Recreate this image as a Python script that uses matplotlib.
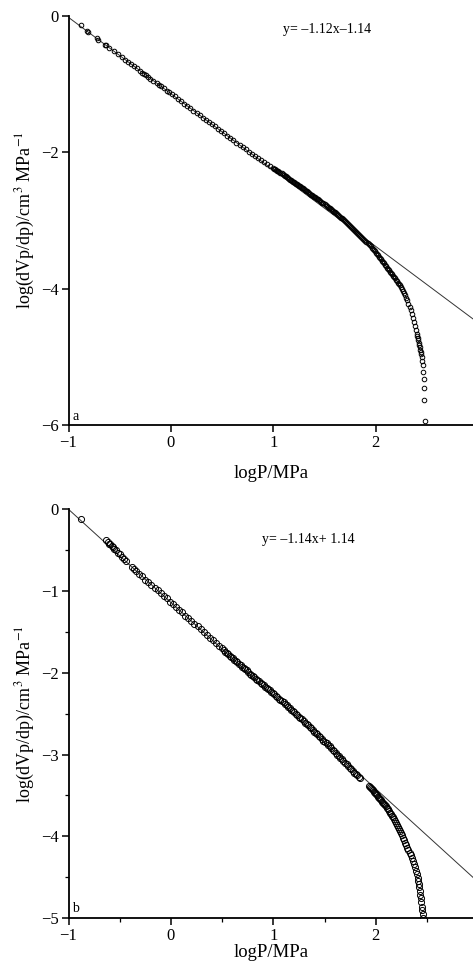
import numpy as np
import matplotlib
matplotlib.use("Agg")
import matplotlib.pyplot as plt
from matplotlib.ticker import MultipleLocator

plt.rcParams['font.family'] = ['Liberation Serif', 'DejaVu Serif']
plt.rcParams['mathtext.fontset'] = 'stix'

# sample a: logP vs log(dVp/dp)
logp_a = [-0.88, -0.82, -0.81, -0.72, -0.71, -0.64, -0.63, -0.60, -0.56, -0.52,
          -0.48, -0.45, -0.42, -0.39, -0.36, -0.33, -0.30, -0.28, -0.26, -0.24,
          -0.22, -0.20, -0.17, -0.14, -0.12, -0.10, -0.07, -0.04, -0.02, 0.01,
          0.04, 0.07, 0.10, 0.13, 0.16, 0.19, 0.22, 0.25, 0.28, 0.31,
          0.34, 0.37, 0.40, 0.43, 0.46, 0.49, 0.52, 0.55, 0.58, 0.61,
          0.64, 0.67, 0.70, 0.73, 0.76, 0.79, 0.82, 0.85, 0.88, 0.91,
          0.94, 0.97, 1.00, 1.02, 1.04, 1.06, 1.08, 1.10, 1.12, 1.14,
          1.16, 1.18, 1.20, 1.22, 1.24, 1.26, 1.28, 1.30, 1.32, 1.34,
          1.36, 1.38, 1.40, 1.42, 1.44, 1.46, 1.48, 1.50, 1.52, 1.54,
          1.56, 1.58, 1.60, 1.62, 1.64, 1.66, 1.68, 1.70, 1.72, 1.74,
          1.76, 1.78, 1.80, 1.82, 1.84, 1.86, 1.88, 1.90, 1.92, 1.94,
          1.96, 1.98, 2.00, 2.02, 2.04, 2.06, 2.08, 2.10, 2.12, 2.14,
          2.16, 2.18, 2.20, 2.22, 2.24, 2.26, 2.28, 2.30, 2.32, 2.34,
          2.36, 2.38, 2.40, 2.41, 2.42, 2.43, 2.44, 2.45, 2.46, 2.465,
          2.47, 2.47, 2.475, 2.48,
          1.01, 1.03, 1.05, 1.07, 1.09, 1.11, 1.13, 1.15, 1.17, 1.19,
          1.21, 1.23, 1.25, 1.27, 1.29, 1.31, 1.33, 1.35, 1.37, 1.39,
          1.41, 1.43, 1.45, 1.47, 1.49, 1.51, 1.53, 1.55, 1.57, 1.59,
          1.61, 1.63, 1.65, 1.67, 1.69, 1.71, 1.73, 1.75, 1.77, 1.79,
          1.81, 1.83, 1.85, 1.87, 1.89, 1.91, 1.93, 1.95, 1.97, 1.99,
          2.01, 2.03, 2.05, 2.07, 2.09, 2.11, 2.13, 2.15, 2.17, 2.19,
          2.21, 2.23, 2.25, 2.27, 2.29, 2.31, 2.33, 2.35, 2.37, 2.39,
          2.405, 2.415, 2.425, 2.435, 2.445, 2.455]
logdv_a = [-0.13, -0.22, -0.23, -0.33, -0.35, -0.42, -0.43, -0.47, -0.51, -0.56,
           -0.60, -0.64, -0.67, -0.70, -0.74, -0.77, -0.80, -0.83, -0.85, -0.87,
           -0.89, -0.92, -0.95, -0.98, -1.01, -1.03, -1.06, -1.10, -1.12, -1.15,
           -1.18, -1.22, -1.25, -1.29, -1.32, -1.35, -1.39, -1.42, -1.45, -1.49,
           -1.52, -1.55, -1.59, -1.62, -1.66, -1.69, -1.72, -1.76, -1.79, -1.82,
           -1.86, -1.89, -1.92, -1.95, -1.99, -2.02, -2.05, -2.08, -2.11, -2.14,
           -2.17, -2.20, -2.23, -2.25, -2.27, -2.29, -2.31, -2.33, -2.35, -2.37,
           -2.40, -2.42, -2.44, -2.46, -2.48, -2.50, -2.52, -2.54, -2.56, -2.58,
           -2.61, -2.63, -2.65, -2.67, -2.69, -2.72, -2.74, -2.76, -2.78, -2.81,
           -2.83, -2.86, -2.88, -2.91, -2.93, -2.96, -2.98, -3.01, -3.04, -3.07,
           -3.09, -3.12, -3.15, -3.18, -3.21, -3.24, -3.27, -3.30, -3.33, -3.36,
           -3.40, -3.43, -3.47, -3.51, -3.55, -3.59, -3.63, -3.67, -3.71, -3.75,
           -3.79, -3.83, -3.87, -3.91, -3.95, -4.00, -4.06, -4.13, -4.22, -4.32,
           -4.43, -4.55, -4.66, -4.72, -4.79, -4.86, -4.93, -5.00, -5.12, -5.22,
           -5.33, -5.46, -5.63, -5.94,
           -2.24, -2.26, -2.28, -2.30, -2.32, -2.34, -2.36, -2.385, -2.41, -2.43,
           -2.45, -2.47, -2.49, -2.51, -2.53, -2.55, -2.57, -2.595, -2.62, -2.64,
           -2.66, -2.68, -2.705, -2.73, -2.75, -2.77, -2.795, -2.82, -2.845, -2.87,
           -2.895, -2.92, -2.945, -2.97, -2.995, -3.025, -3.055, -3.08, -3.105, -3.135,
           -3.165, -3.195, -3.225, -3.255, -3.285, -3.315, -3.345, -3.38, -3.415, -3.45,
           -3.49, -3.53, -3.57, -3.61, -3.65, -3.69, -3.73, -3.77, -3.81, -3.85,
           -3.89, -3.93, -3.975, -4.03, -4.095, -4.17, -4.27, -4.375, -4.49, -4.60,
           -4.69, -4.755, -4.825, -4.895, -4.965, -5.06]

# sample b
logp_b = [-0.88, -0.63, -0.61, -0.60, -0.59, -0.58, -0.57, -0.56, -0.54, -0.52,
          -0.50, -0.48, -0.46, -0.44, -0.38, -0.36, -0.34, -0.31, -0.28, -0.25,
          -0.22, -0.19, -0.16, -0.13, -0.10, -0.07, -0.04, -0.01, 0.02, 0.05,
          0.08, 0.11, 0.14, 0.17, 0.20, 0.23, 0.26, 0.29, 0.32, 0.35,
          0.38, 0.41, 0.44, 0.47, 0.50, 0.53, 0.56, 0.59, 0.62, 0.65,
          0.68, 0.71, 0.74, 0.77, 0.80, 0.83, 0.86, 0.89, 0.92, 0.95,
          0.98, 1.01, 1.04, 1.07, 1.10, 1.13, 1.16, 1.19, 1.22, 1.25,
          1.28, 1.31, 1.34, 1.37, 1.40, 1.43, 1.46, 1.49, 1.52, 1.55,
          1.58, 1.61, 1.64, 1.67, 1.70, 1.73, 1.76, 1.79, 1.82, 1.85,
          1.93, 1.95, 1.97, 1.99, 2.01, 2.03, 2.05, 2.07, 2.09, 2.11,
          2.13, 2.15, 2.17, 2.19, 2.21, 2.23, 2.25, 2.27, 2.29, 2.31,
          2.33, 2.35, 2.37, 2.39, 2.41, 2.42, 2.43, 2.44, 2.45, 2.46,
          2.46,
          0.515, 0.545, 0.575, 0.605, 0.635, 0.665, 0.695, 0.725, 0.755, 0.785,
          0.815, 0.845, 0.875, 0.905, 0.935, 0.965, 0.995, 1.025, 1.055, 1.085,
          1.115, 1.145, 1.175, 1.205, 1.235, 1.265, 1.295, 1.325, 1.355, 1.385,
          1.415, 1.445, 1.475, 1.505, 1.535, 1.565, 1.595, 1.625, 1.655, 1.685,
          1.715, 1.745, 1.775, 1.805, 1.835,
          1.94, 1.96, 1.98, 2.00, 2.02, 2.04, 2.06, 2.08, 2.10, 2.12,
          2.14, 2.16, 2.18, 2.20, 2.22, 2.24, 2.26, 2.28, 2.30, 2.32,
          2.34, 2.36, 2.38, 2.40, 2.415, 2.425, 2.435, 2.445, 2.455]
logdv_b = [-0.12, -0.37, -0.40, -0.42, -0.43, -0.45, -0.46, -0.48, -0.50, -0.53,
           -0.55, -0.58, -0.61, -0.63, -0.71, -0.73, -0.75, -0.79, -0.82, -0.86,
           -0.89, -0.92, -0.96, -0.99, -1.03, -1.06, -1.09, -1.13, -1.16, -1.20,
           -1.23, -1.26, -1.30, -1.33, -1.37, -1.40, -1.43, -1.47, -1.50, -1.54,
           -1.57, -1.60, -1.64, -1.67, -1.70, -1.74, -1.77, -1.81, -1.84, -1.87,
           -1.91, -1.94, -1.97, -2.01, -2.04, -2.07, -2.10, -2.14, -2.17, -2.20,
           -2.23, -2.26, -2.30, -2.33, -2.36, -2.40, -2.43, -2.47, -2.50, -2.54,
           -2.57, -2.61, -2.64, -2.68, -2.72, -2.75, -2.79, -2.83, -2.86, -2.90,
           -2.94, -2.98, -3.02, -3.06, -3.10, -3.14, -3.18, -3.22, -3.25, -3.29,
           -3.38, -3.41, -3.44, -3.47, -3.50, -3.53, -3.56, -3.59, -3.62, -3.65,
           -3.69, -3.73, -3.77, -3.81, -3.86, -3.91, -3.96, -4.02, -4.08, -4.14,
           -4.20, -4.27, -4.34, -4.42, -4.51, -4.58, -4.67, -4.76, -4.86, -4.95,
           -5.00,
           -1.72, -1.755, -1.79, -1.825, -1.855, -1.89, -1.925, -1.955, -1.99, -2.025,
           -2.055, -2.085, -2.12, -2.155, -2.185, -2.215, -2.245, -2.28, -2.315, -2.345,
           -2.38, -2.415, -2.45, -2.485, -2.52, -2.555, -2.59, -2.625, -2.66, -2.70,
           -2.735, -2.77, -2.81, -2.845, -2.88, -2.92, -2.96, -3.00, -3.04, -3.08,
           -3.12, -3.16, -3.20, -3.235, -3.27,
           -3.395, -3.425, -3.455, -3.485, -3.515, -3.545, -3.575, -3.605, -3.635, -3.67,
           -3.71, -3.75, -3.79, -3.835, -3.885, -3.935, -3.99, -4.05, -4.11, -4.17,
           -4.235, -4.305, -4.38, -4.465, -4.545, -4.625, -4.715, -4.81, -4.905]

# fitted lines (slope, intercept) and their printed equations
fit_a = (-1.12, -1.14)
fit_b = (-1.14, -1.14)
eq_a = 'y= \u20131.12x\u20131.14'
eq_b = 'y= \u20131.14x+ 1.14'

W, H = 473, 965
fig = plt.figure(figsize=(W / 100, H / 100), dpi=100)

x0 = 68.5 / W
ax1 = fig.add_axes([x0, 1 - 425 / H, 1 - x0, 409 / H])
ax2 = fig.add_axes([x0, 1 - 918 / H, 1 - x0, 408.7 / H])

xmax = 2.95
xs = np.array([-1, xmax])

ax1.plot(xs, fit_a[0] * xs + fit_a[1], color='#333333', lw=0.7, zorder=1)
ax1.plot(logp_a, logdv_a, 'o', ms=3.3, mfc='none', mec='black', mew=0.7, zorder=2)
ax2.plot(xs, fit_b[0] * xs + fit_b[1], color='#333333', lw=0.7, zorder=1)
ax2.plot(logp_b, logdv_b, 'o', ms=4.4, mfc='none', mec='black', mew=0.7, zorder=2)

ax1.set_xlim(-1, xmax)
ax1.set_ylim(-6, 0)
ax1.set_yticks([0, -2, -4, -6])
ax1.set_xticks([-1, 0, 1, 2])

ax2.set_xlim(-1, xmax)
ax2.set_ylim(-5, 0)
ax2.set_yticks([0, -1, -2, -3, -4, -5])
ax2.set_xticks([-1, 0, 1, 2])
ax2.xaxis.set_minor_locator(MultipleLocator(0.5))
ax2.yaxis.set_minor_locator(MultipleLocator(0.5))

ylab = r'log(dVp/dp)/cm$^3$ MPa$^{-1}$'
for ax in (ax1, ax2):
    for s in ('top', 'right'):
        ax.spines[s].set_visible(False)
    for s in ('left', 'bottom'):
        ax.spines[s].set_linewidth(1.3)
    ax.tick_params(which='major', direction='out', length=5, width=1.1,
                   labelsize=12, pad=2)
    ax.tick_params(which='minor', direction='out', length=3, width=0.9)
    ax.set_ylabel(ylab, fontsize=13, labelpad=3)

ax1.set_xlabel('logP/MPa', fontsize=13.5, labelpad=10)
ax2.set_xlabel('logP/MPa', fontsize=13.5, labelpad=0)

ax1.text(283 / W, 1 - 30 / H, eq_a, transform=fig.transFigure, fontsize=10, va='center')
ax2.text(262 / W, 1 - 540 / H, eq_b, transform=fig.transFigure, fontsize=10, va='center')
ax1.text(72 / W, 1 - 416 / H, 'a', transform=fig.transFigure, fontsize=10, va='center')
ax2.text(72 / W, 1 - 909 / H, 'b', transform=fig.transFigure, fontsize=10, va='center')

plt.savefig('out.png', dpi=100)
